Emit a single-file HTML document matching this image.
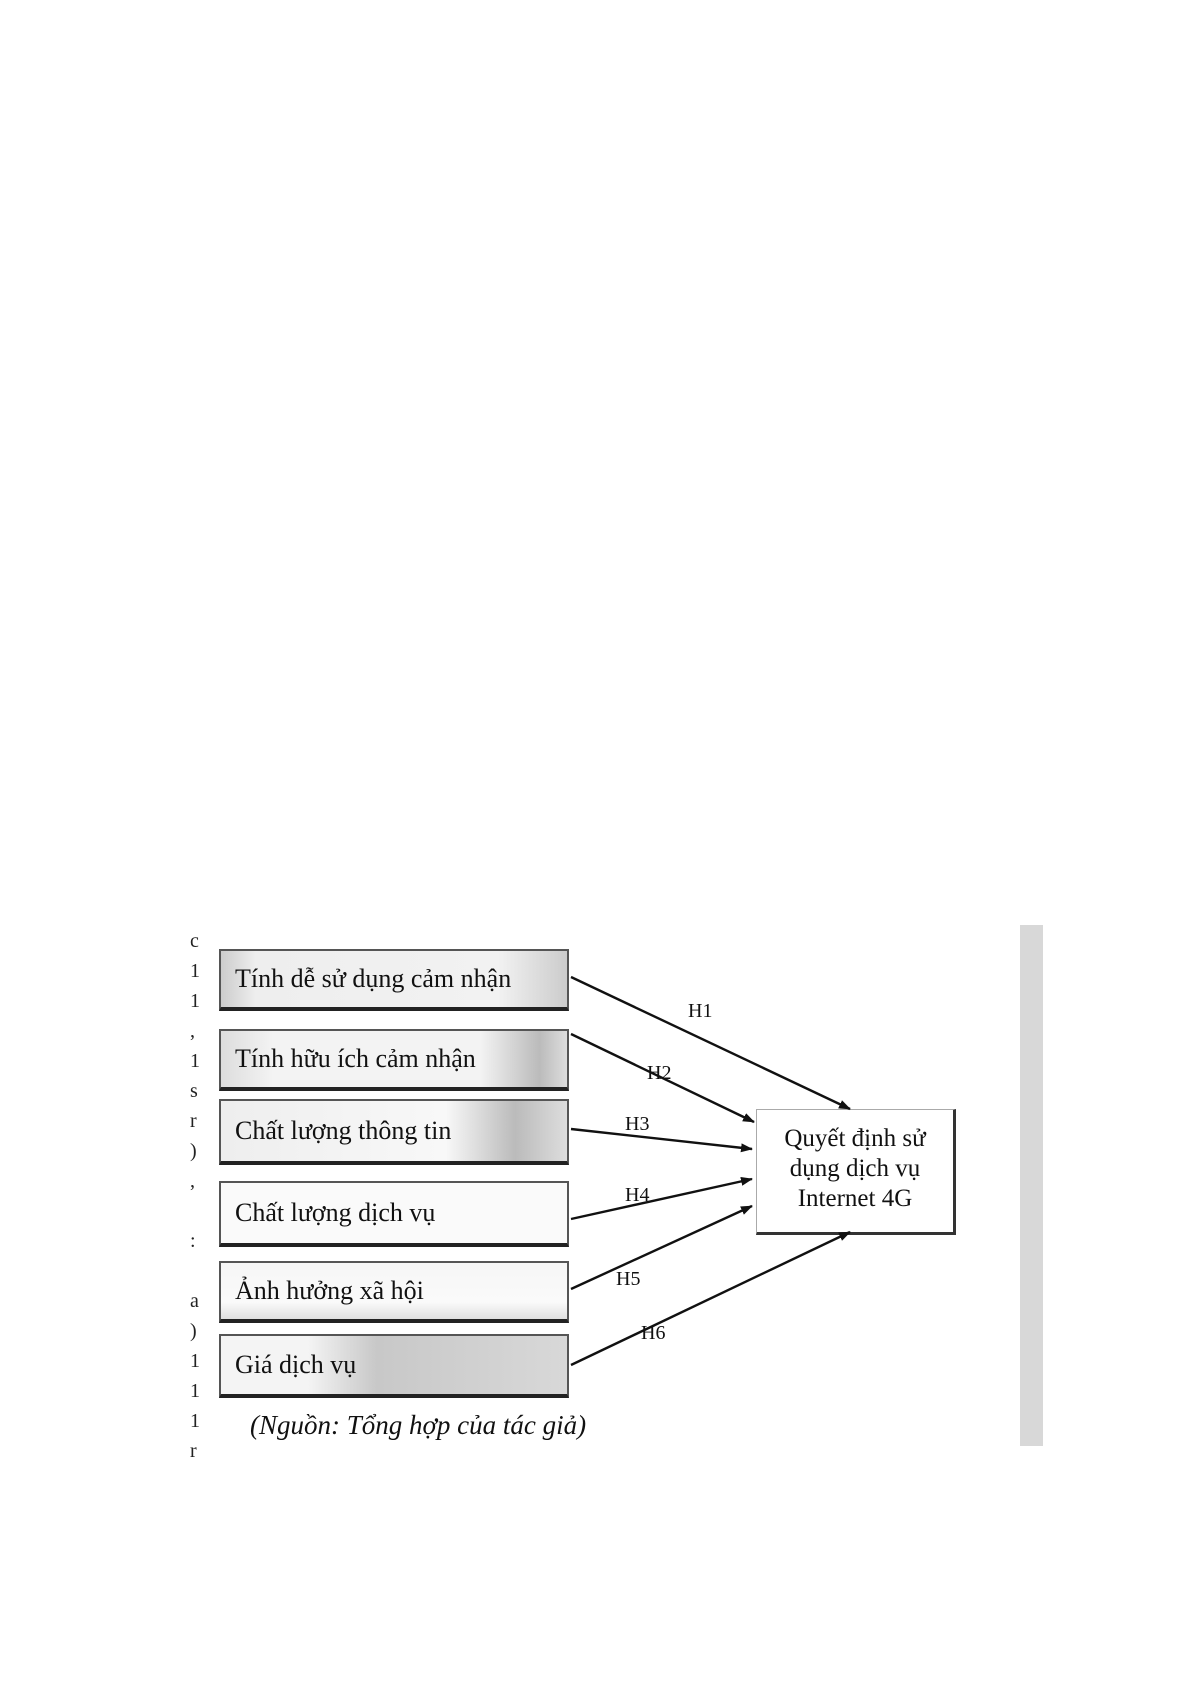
<!DOCTYPE html>
<html><head><meta charset="utf-8"><style>
body{margin:0;width:1191px;height:1685px;background:#fff;position:relative;overflow:hidden;font-family:"Liberation Serif",serif;}
.b{position:absolute;left:219px;width:350px;border:2px solid #555;border-bottom:4px solid #222;box-sizing:border-box;font-size:26px;color:#111;padding-left:14px;display:flex;align-items:center;}
.l{position:absolute;font-size:20px;color:#111;}
</style></head><body>
<div style="position:absolute;left:1020px;top:925px;width:23px;height:521px;background:#d8d8d8"></div>
<div class="b" style="top:949px;height:62px;background:linear-gradient(90deg,#ccc 0%,#eee 10%,#f2f2f2 80%,#ccc 100%)">Tính dễ sử dụng cảm nhận</div>
<div class="b" style="top:1029px;height:62px;background:linear-gradient(90deg,#ddd 0%,#f3f3f3 15%,#f3f3f3 75%,#bbb 92%,#ddd 100%)">Tính hữu ích cảm nhận</div>
<div class="b" style="top:1099px;height:66px;background:linear-gradient(90deg,#eee 0%,#f8f8f8 65%,#bbb 85%,#ddd 100%)">Chất lượng thông tin</div>
<div class="b" style="top:1181px;height:66px;background:#fafafa">Chất lượng dịch vụ</div>
<div class="b" style="top:1261px;height:62px;background:linear-gradient(180deg,#f6f6f6 0%,#fafafa 70%,#e0e0e0 100%)">Ảnh hưởng xã hội</div>
<div class="b" style="top:1334px;height:64px;background:linear-gradient(90deg,#f4f4f4 0%,#f4f4f4 25%,#c8c8c8 45%,#d8d8d8 100%)">Giá dịch vụ</div>
<div style="position:absolute;left:756px;top:1109px;width:200px;height:126px;border:1px solid #aaa;border-right:3px solid #333;border-bottom:3px solid #333;box-sizing:border-box;background:#fff;font-size:25px;text-align:center;line-height:30px;padding-top:14px;color:#111">Quyết định sử<br>dụng dịch vụ<br>Internet 4G</div>
<svg width="1191" height="1685" style="position:absolute;left:0;top:0">
<defs><marker id="a" markerWidth="12" markerHeight="9" refX="11" refY="4.5" orient="auto" markerUnits="userSpaceOnUse"><path d="M0,0L12,4.5L0,9z" fill="#111"/></marker></defs>
<g stroke="#111" stroke-width="2.4" marker-end="url(#a)">
<line x1="571" y1="977" x2="850" y2="1109"/>
<line x1="571" y1="1034" x2="754" y2="1122"/>
<line x1="571" y1="1129" x2="752" y2="1149"/>
<line x1="571" y1="1219" x2="752" y2="1179"/>
<line x1="571" y1="1289" x2="752" y2="1206"/>
<line x1="571" y1="1365" x2="850" y2="1232"/>
</g></svg>
<div class="l" style="left:688px;top:1000px">H1</div>
<div class="l" style="left:647px;top:1062px">H2</div>
<div class="l" style="left:625px;top:1113px">H3</div>
<div class="l" style="left:625px;top:1184px">H4</div>
<div class="l" style="left:616px;top:1268px">H5</div>
<div class="l" style="left:641px;top:1322px">H6</div>
<div style="position:absolute;left:250px;top:1410px;font-size:27px;font-style:italic;color:#111">(Nguồn: Tổng hợp của tác giả)</div>
<div style="position:absolute;left:190px;top:926px;font-size:20px;line-height:30px;color:#222">c<br>1<br>1<br>,<br>1<br>s<br>r<br>)<br>,<br><br>:<br><br>a<br>)<br>1<br>1<br>1<br>r</div>
</body></html>
